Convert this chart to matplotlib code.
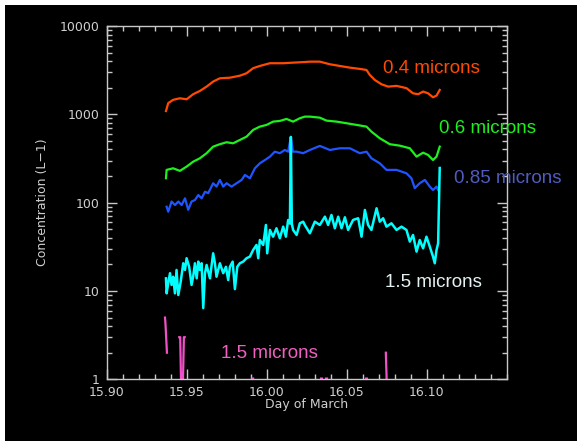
import numpy as np
import matplotlib.pyplot as plt
from matplotlib.patches import Rectangle
from matplotlib.ticker import FixedLocator, LogLocator, NullFormatter

nan = np.nan

# 0.4 micron channel
days_04 = [15.9369, 15.9383, 15.9414, 15.9456, 15.9498, 15.9539, 15.9581, 15.9623, 15.9664, 15.9706,
           15.9769, 15.9831, 15.9873, 15.9914, 15.9956, 16.0019, 16.0102, 16.0164, 16.0227, 16.0269,
           16.0331, 16.0394, 16.0456, 16.0519, 16.0581, 16.0623, 16.0644, 16.0675, 16.0717, 16.0758,
           16.0811, 16.0873, 16.0914, 16.0946, 16.0977, 16.1008, 16.1039, 16.1061, 16.1081]
conc_04 = [1090, 1340, 1460, 1520, 1480, 1690, 1840, 2060, 2350, 2560,
           2600, 2740, 2920, 3330, 3530, 3790, 3790, 3850, 3900, 3950,
           3950, 3690, 3530, 3380, 3270, 3180, 2790, 2450, 2190, 2060,
           2100, 1980, 1730, 1690, 1810, 1730, 1560, 1630, 1890]

# 0.6 micron channel
days_06 = [15.9369, 15.9373, 15.9414, 15.9456, 15.9498, 15.9539, 15.9581, 15.9623, 15.9664, 15.9706,
           15.9748, 15.9789, 15.9831, 15.9873, 15.9914, 15.9956, 15.9998, 16.0039, 16.0081, 16.0123,
           16.0164, 16.0206, 16.0237, 16.0269, 16.0331, 16.0373, 16.0436, 16.0498, 16.0561, 16.0623,
           16.0654, 16.0706, 16.0769, 16.0831, 16.0894, 16.0936, 16.0977, 16.1008, 16.1039, 16.1061,
           16.1081]
conc_06 = [189, 235, 245, 229, 256, 291, 318, 363, 431, 459,
           483, 470, 513, 559, 666, 726, 759, 827, 842, 887,
           827, 903, 942, 942, 917, 849, 827, 793, 759, 726,
           637, 536, 459, 442, 413, 332, 368, 347, 304, 332,
           431]

# 0.85 micron channel
days_085 = [15.9373, 15.9383, 15.9404, 15.9425, 15.9446, 15.9467, 15.9488, 15.9508, 15.9529, 15.9550,
            15.9571, 15.9592, 15.9613, 15.9633, 15.9664, 15.9685, 15.9706, 15.9727, 15.9748, 15.9779,
            15.9811, 15.9842, 15.9863, 15.9894, 15.9925, 15.9956, 15.9988, 16.0019, 16.0050, 16.0081,
            16.0112, 16.0133, 16.0150, 16.0163, 16.0186, 16.0227, 16.0269, 16.0331, 16.0394, 16.0456,
            16.0519, 16.0581, 16.0623, 16.0654, 16.0706, 16.0748, 16.0811, 16.0873, 16.0904, 16.0925,
            16.0956, 16.0988, 16.1019, 16.1039, 16.1061, 16.1071]
conc_085 = [90, 79, 103, 94, 103, 94, 112, 83, 103, 107,
            122, 112, 133, 128, 166, 152, 181, 152, 166, 152,
            166, 181, 206, 189, 245, 279, 304, 332, 378, 363,
            395, 378, 555, 378, 378, 363, 395, 439, 395, 413,
            413, 363, 378, 318, 279, 235, 235, 215, 189, 146,
            166, 181, 152, 139, 152, 139]

# 1.5 micron channel
days_15 = [15.9369, 15.9373, 15.9383, 15.9394, 15.9404, 15.9414, 15.9425, 15.9435, 15.9446, 15.9461,
           15.9477, 15.9488, 15.9498, 15.9514, 15.9529, 15.9539, 15.9550, 15.9561, 15.9571, 15.9581,
           15.9592, 15.9602, 15.9613, 15.9623, 15.9644, 15.9664, 15.9675, 15.9685, 15.9706, 15.9727,
           15.9744, 15.9758, 15.9769, 15.9786, 15.9800, 15.9815, 15.9831, 15.9852, 15.9873, 15.9894,
           15.9914, 15.9935, 15.9946, 15.9956, 15.9977, 15.9994, 16.0002, 16.0019, 16.0039, 16.0060,
           16.0081, 16.0102, 16.0119, 16.0133, 16.0144, 16.0150, 16.0156, 16.0164, 16.0186, 16.0206,
           16.0227, 16.0237, 16.0269, 16.0300, 16.0331, 16.0363, 16.0383, 16.0404, 16.0425, 16.0446,
           16.0467, 16.0488, 16.0508, 16.0539, 16.0571, 16.0592, 16.0613, 16.0633, 16.0654, 16.0686,
           16.0706, 16.0727, 16.0748, 16.0779, 16.0811, 16.0842, 16.0873, 16.0894, 16.0914, 16.0936,
           16.0956, 16.0977, 16.0998, 16.1019, 16.1039, 16.1050, 16.1061, 16.1071, 16.1081]
conc_15 = [13.9, 9.4, 12.2, 15.9, 11.7, 14.5, 9.4, 17.3, 9.0, 12.7,
           20.6, 17.3, 23.5, 18.8, 11.7, 14.5, 20.6, 13.9, 21.5, 17.3,
           20.6, 6.4, 15.9, 19.7, 13.9, 26.7, 20.6, 14.5, 20.6, 15.9,
           18.8, 13.3, 18.8, 21.5, 10.5, 18.8, 20.6, 21.5, 23.5, 24.5,
           29.1, 33.2, 23.5, 37.8, 33.2, 55.9, 26.7, 49.1, 41.2, 51.3,
           39.5, 53.5, 41.2, 63.7, 58.0, 555, 58.0, 49.1, 43.1, 58.4,
           60.9, 55.9, 45.0, 60.9, 55.9, 69.4, 55.9, 72.6, 51.3, 69.4,
           51.3, 68.3, 49.1, 63.7, 66.6, 41.2, 82.7, 55.9, 49.1, 86.4,
           60.9, 66.6, 53.5, 58.4, 49.1, 53.5, 49.1, 36.2, 43.1, 27.9,
           37.8, 30.4, 41.2, 31.7, 24.5, 20.6, 29.1, 34.7, 247]

# second 1.5 micron channel (mostly below 1, gaps = nan)
days_15b = [15.9363, 15.9366, 15.9375, nan, 15.9452, 15.9458, 15.9466, 15.9472, 15.9481, 15.9486, nan,
            15.9910, 15.9914, nan, 16.0339, 16.0345, nan, 16.0370, 16.0376, nan,
            16.0620, 16.0626, nan, 16.0744, 16.0754]
conc_15b = [5.0, 4.2, 2.0, nan, 3.0, 3.0, 0.5, 0.5, 3.0, 3.0, nan,
            1.02, 1.02, nan, 1.02, 1.02, nan, 1.02, 1.02, nan,
            1.02, 1.02, nan, 2.0, 0.5]

x_major = [15.90, 15.95, 16.00, 16.05, 16.10]
x_labels = ['15.90', '15.95', '16.00', '16.05', '16.10']
y_major = [1, 10, 100, 1000, 10000]
y_labels = ['1', '10', '100', '1000', '10000']

axis_col = '#c8c8c8'
text_col = '#cfcfcf'

fig = plt.figure(figsize=(5.77, 4.41), dpi=100)
fig.patch.set_facecolor('white')
# black panel (screenshot has a thin white margin top/left)
fig.add_artist(Rectangle((5 / 577, 0), 1, 436 / 441, transform=fig.transFigure,
                         facecolor='black', edgecolor='none', zorder=-10))

ax = fig.add_axes([0.1854, 0.1399, 0.6928, 0.8011])
ax.set_facecolor('black')

ax.plot(days_04, conc_04, color='#ff4a00', lw=1.6)
ax.plot(days_06, conc_06, color='#1ef01e', lw=1.6)
ax.plot(days_085, conc_085, color='#1f55ff', lw=1.6)
ax.plot(days_15, conc_15, color='#00ffff', lw=1.8)
ax.plot(days_15b, conc_15b, color='#f050c8', lw=1.6)

ax.set_yscale('log')
ax.set_xlim(15.90, 16.15)
ax.set_ylim(1, 10000)

ax.xaxis.set_major_locator(FixedLocator(x_major))
ax.set_xticklabels(x_labels)
ax.xaxis.set_minor_locator(FixedLocator(np.arange(15.90, 16.1501, 0.01)))
ax.yaxis.set_major_locator(FixedLocator(y_major))
ax.set_yticklabels(y_labels)
ax.yaxis.set_minor_locator(LogLocator(base=10, subs=np.arange(2, 10)))
ax.yaxis.set_minor_formatter(NullFormatter())

ax.tick_params(which='both', direction='in', top=True, right=True, color=axis_col,
               labelcolor=text_col, labelsize=9, width=1, pad=5)
ax.tick_params(which='major', length=7)
ax.tick_params(which='minor', length=3.5)
for sp in ax.spines.values():
    sp.set_color(axis_col)
    sp.set_linewidth(1)

ax.set_xlabel('Day of March', color=text_col, fontsize=9)
ax.xaxis.set_label_coords(0.5, -0.054)
ax.set_ylabel('Concentration (L\u22121)', color=text_col, fontsize=9)
ax.yaxis.set_label_coords(-0.145, 0.5)

lab_font = 'Liberation Sans'
ax.text(0.691, 0.866, '0.4 microns', transform=ax.transAxes, color='#ff4a00',
        fontsize=13.5, family=lab_font, va='baseline')
ax.text(0.831, 0.696, '0.6 microns', transform=ax.transAxes, color='#1ef01e',
        fontsize=13.5, family=lab_font, va='baseline')
ax.text(0.869, 0.556, '0.85 microns', transform=ax.transAxes, color='#4f5cc0',
        fontsize=13.5, family=lab_font, va='baseline')
ax.text(0.6955, 0.262, '1.5 microns', transform=ax.transAxes, color='#e4f2f2',
        fontsize=13.5, family=lab_font, va='baseline')
ax.text(0.285, 0.061, '1.5 microns', transform=ax.transAxes, color='#f060c0',
        fontsize=13.5, family=lab_font, va='baseline')

fig.savefig('out.png', dpi=100, facecolor=fig.get_facecolor())
